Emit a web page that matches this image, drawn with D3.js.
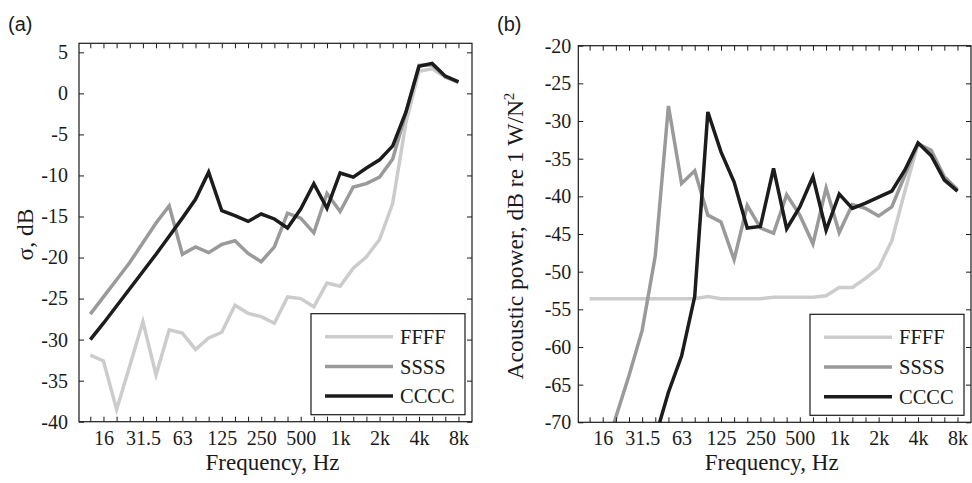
<!DOCTYPE html>
<html>
<head>
<meta charset="utf-8">
<script src="https://cdn.jsdelivr.net/npm/d3@7"></script>
<style>
  body { margin: 0; background: #fff; }
  svg text { font-family: "Liberation Serif", "Times New Roman", serif; fill: #1a1a1a; }
</style>
</head>
<body>
<div id="container"></div>
<script>
/* DATA */
// third-octave bands, 12.5 Hz .. 8 kHz
var bands = ["12.5","16","20","25","31.5","40","50","63","80","100","125","160","200","250",
             "315","400","500","630","800","1k","1.25k","1.6k","2k","2.5k","3.15k","4k","5k","6.3k","8k"];
var labelledBands = ["16","31.5","63","125","250","500","1k","2k","4k","8k"];
var seriesNames = ["FFFF","SSSS","CCCC"];

// (a) radiation efficiency, dB
var sigmaF = [-31.9,-32.6,-38.5,-33.2,-27.8,-34.3,-28.8,-29.2,-31.2,-29.8,-29.1,-25.8,-26.8,-27.2,
              -28.0,-24.8,-25.0,-26.0,-23.1,-23.5,-21.3,-19.9,-17.8,-13.4,-3.6,2.7,3.0,2.0,1.3];
var sigmaS = [-26.9,-24.8,-22.7,-20.6,-18.2,-15.8,-13.7,-19.6,-18.7,-19.4,-18.4,-17.95,-19.5,-20.5,
              -18.7,-14.6,-15.2,-17.0,-12.2,-14.4,-11.4,-11.0,-10.2,-8.0,-2.4,3.4,3.5,2.0,1.4];
var sigmaC = [-30.0,-28.0,-25.9,-23.8,-21.7,-19.6,-17.4,-15.2,-12.9,-9.6,-14.3,-14.9,-15.6,-14.7,
              -15.3,-16.4,-14.1,-11.0,-14.0,-9.7,-10.2,-9.1,-8.1,-6.4,-2.3,3.3,3.65,2.1,1.4];

// (b) acoustic power, dB re 1 W/N^2 (null = below the plotted range)
var powerF = [-53.6,-53.6,-53.6,-53.6,-53.6,-53.6,-53.6,-53.6,-53.6,-53.3,-53.6,-53.6,-53.6,-53.6,
              -53.4,-53.4,-53.4,-53.4,-53.2,-52.1,-52.1,-50.9,-49.5,-45.9,-39.3,-33.0,-34.3,-37.9,-39.3];
var powerS = [null,-75.0,-69.3,-63.8,-57.8,-47.9,-28.0,-38.3,-36.6,-42.5,-43.4,-48.4,-41.2,-44.2,
              -44.9,-39.8,-42.5,-46.3,-38.9,-44.8,-41.1,-41.6,-42.6,-41.4,-37.2,-33.0,-33.9,-37.4,-39.1];
var powerC = [null,null,null,null,null,-72.0,-66.0,-61.2,-53.3,-28.8,-34.1,-38.1,-44.2,-44.0,
              -36.3,-44.3,-41.4,-37.4,-44.5,-39.7,-41.6,-40.9,-40.1,-39.3,-36.5,-32.9,-34.6,-37.8,-39.3];

var sigmaTicks = [-40,-35,-30,-25,-20,-15,-10,-5,0,5];
var powerTicks = [-70,-65,-60,-55,-50,-45,-40,-35,-30,-25,-20];

/* CONSTANTS */
var width = 972,
    height = 483,
    colors = ["#cccccc", "#9a9a9a", "#1c1c1c"],
    lineWidth = 3.5;

var svg = d3.select('#container').append('svg')
    .attr('width', width)
    .attr('height', height)
    .style('background', '#fff');

function drawPanel(p) {
  var x = d3.scaleLinear()
    .domain([-0.86, 29.03])
    .range([p.left, p.right]);

  var y = d3.scaleLinear()
    .domain(p.yDomain)
    .range([p.bottom, p.top]);

  var g = svg.append('g');

  g.append('clipPath').attr('id', p.id + '-clip')
    .append('rect')
      .attr('x', p.left).attr('y', p.top)
      .attr('width', p.right - p.left).attr('height', p.bottom - p.top);

  var line = d3.line()
    .defined(function(d) { return d !== null; })
    .x(function(d, i) { return x(i); })
    .y(function(d) { return y(d); });

  g.append('g').attr('clip-path', 'url(#' + p.id + '-clip)')
    .selectAll('path').data(p.series)
    .enter().append('path')
      .attr('d', function(d) { return line(d); })
      .attr('fill', 'none')
      .attr('stroke', function(d, i) { return colors[i]; })
      .attr('stroke-width', lineWidth);

  // axes, ticks pointing inward
  var bandIdx = d3.range(bands.length);
  var xLabel = function(i) { return labelledBands.indexOf(bands[i]) >= 0 ? bands[i] : ''; };

  g.append('g')
    .attr('transform', 'translate(0,' + p.bottom + ')')
    .call(d3.axisBottom(x).tickValues(bandIdx).tickSize(-5).tickSizeOuter(0)
      .tickPadding(9).tickFormat(xLabel));
  g.append('g')
    .attr('transform', 'translate(0,' + p.top + ')')
    .call(d3.axisTop(x).tickValues(bandIdx).tickSize(-5).tickSizeOuter(0).tickFormat(''));
  g.append('g')
    .attr('transform', 'translate(' + p.left + ',0)')
    .call(d3.axisLeft(y).tickValues(p.yTicks).tickSize(-5).tickSizeOuter(0)
      .tickPadding(p.yPad).tickFormat(function(d) { return String(d); }));
  g.append('g')
    .attr('transform', 'translate(' + p.right + ',0)')
    .call(d3.axisRight(y).tickValues(p.yTicks).tickSize(-5).tickSizeOuter(0).tickFormat(''));

  g.selectAll('.domain').remove();
  g.selectAll('.tick line').attr('stroke', '#1a1a1a');
  g.selectAll('.tick text')
    .style('font-family', '"Liberation Serif", "Times New Roman", serif')
    .style('font-size', '20px')
    .attr('fill', '#1a1a1a');

  g.append('rect')
    .attr('x', p.left).attr('y', p.top)
    .attr('width', p.right - p.left).attr('height', p.bottom - p.top)
    .attr('fill', 'none').attr('stroke', '#1a1a1a').attr('stroke-width', 1.2);

  // axis titles
  g.append('text')
    .attr('x', (p.left + p.right) / 2 - 3)
    .attr('y', 470)
    .attr('text-anchor', 'middle')
    .style('font-size', '23px')
    .text('Frequency, Hz');

  var yt = g.append('text')
    .attr('transform', 'translate(' + p.yLabelX + ',' + ((p.top + p.bottom) / 2 + 2) + ') rotate(-90)')
    .attr('text-anchor', 'middle')
    .style('font-size', '23.5px');
  yt.append('tspan').text(p.yLabel);
  if (p.yLabelSup) {
    yt.append('tspan').attr('dy', -9).style('font-size', '15px').text(p.yLabelSup);
  }

  // panel letter
  g.append('text')
    .attr('x', p.letterX).attr('y', 31)
    .style('font-family', '"Liberation Sans", Arial, sans-serif')
    .style('font-size', '20px')
    .text(p.letter);

  // legend
  var lw = 154, lh = 101;
  var lx = p.right - 7 - lw,
      ly = p.bottom - 7 - lh;
  var leg = g.append('g').attr('transform', 'translate(' + lx + ',' + ly + ')');
  leg.append('rect')
    .attr('width', lw).attr('height', lh)
    .attr('fill', '#fff').attr('stroke', '#1a1a1a').attr('stroke-width', 1.2);
  var rows = leg.selectAll('g.row').data(seriesNames)
    .enter().append('g')
      .attr('transform', function(d, i) { return 'translate(0,' + (23 + i * 29.7) + ')'; });
  rows.append('line')
    .attr('x1', 14).attr('x2', 82)
    .attr('stroke', function(d, i) { return colors[i]; })
    .attr('stroke-width', lineWidth);
  rows.append('text')
    .attr('x', 89).attr('dy', '0.35em')
    .style('font-size', '20.5px')
    .text(function(d) { return d; });
}

drawPanel({
  id: 'a', letter: '(a)', letterX: 8,
  left: 79, right: 472, top: 43.3, bottom: 421.7,
  yDomain: [-40, 6.1], yTicks: sigmaTicks, yPad: 11,
  yLabel: 'σ, dB', yLabelX: 33,
  series: [sigmaF, sigmaS, sigmaC]
});

drawPanel({
  id: 'b', letter: '(b)', letterX: 497,
  left: 578.3, right: 971, top: 45.7, bottom: 422.3,
  yDomain: [-70, -20], yTicks: powerTicks, yPad: 7,
  yLabel: 'Acoustic power, dB re 1 W/N', yLabelSup: '2', yLabelX: 523,
  series: [powerF, powerS, powerC]
});
</script>
</body>
</html>
